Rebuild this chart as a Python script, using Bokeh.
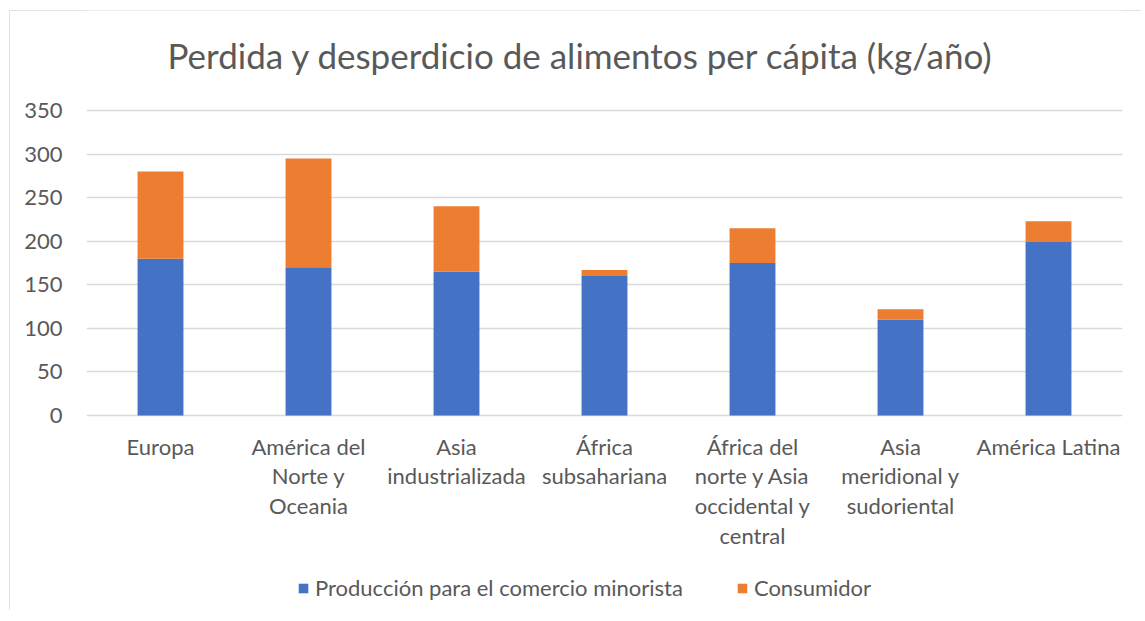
from bokeh.plotting import figure
from bokeh.models import ColumnDataSource, FixedTicker, Legend, LegendItem, Label
from bokeh.core.properties import value
from bokeh.embed import file_html
from bokeh.resources import INLINE

regions = [
    "Europa",
    "América del\nNorte y\nOceania",
    "Asia\nindustrializada",
    "África\nsubsahariana",
    "África del\nnorte y Asia\noccidental y\ncentral",
    "Asia\nmeridional y\nsudoriental",
    "América Latina",
]
produccion = [180, 170, 165, 160, 175, 110, 199]
consumidor = [100, 125, 75, 7, 40, 12, 24]
series_names = ["Producción para el comercio minorista", "Consumidor"]
colors = ["#4472C4", "#ED7D31"]
y_ticks = [0, 50, 100, 150, 200, 250, 300, 350]
title_text = "Perdida y desperdicio de alimentos per cápita (kg/año)"

FONT = "Lato"
TXT = "#595959"

# layout (pixels): the frame spans the whole chart box; 0..350 occupies 305 px
FRAME_H = 600
TOP_PAD = 100            # px from frame top down to value 350
PLOT_PX = 305            # px for 0..350
unit = 350 / PLOT_PX
y_end = 350 + TOP_PAD * unit
y_start = -(FRAME_H - TOP_PAD - PLOT_PX) * unit

src = ColumnDataSource(dict(region=regions, prod=produccion, cons=consumidor,
                            base=[0] * len(regions)))

p = figure(
    x_range=regions, y_range=(y_start, y_end),
    frame_width=1036, frame_height=FRAME_H,
    x_axis_location=None, title=None,
    min_border_left=77, min_border_right=19, min_border_top=0, min_border_bottom=0,
    output_backend="svg", toolbar_location=None,
    margin=(10, 0, 0, 9),
)
p.styles = {"outline": "1px solid #d9d9d9", "outline-offset": "-1px"}

rs = p.vbar_stack(["prod", "cons"], x="region", width=0.31, color=colors,
                  line_color=None, source=src)

# category labels under the bars
p.text(x="region", y="base", text="region", source=src,
       text_font=value(FONT), text_font_size=value("22px"), text_color=TXT,
       text_align="center", text_baseline="top", text_line_height=1.1,
       y_offset=17)

p.outline_line_color = None
p.xgrid.grid_line_color = None
p.yaxis.ticker = FixedTicker(ticks=y_ticks)
p.ygrid.grid_line_color = "#d9d9d9"
p.ygrid.grid_line_width = 1.3

ax = p.yaxis[0]
ax.axis_line_color = None
ax.major_tick_line_color = None
ax.minor_tick_line_color = None
ax.major_label_text_font = FONT
ax.major_label_text_font_size = "22px"
ax.major_label_text_color = TXT
ax.major_label_standoff = 18

# chart title
p.add_layout(Label(x=3.34, y=350 + 56 * unit, text=title_text,
                   text_font=FONT, text_font_size="35px", text_color=TXT,
                   text_align="center", text_baseline="middle"))

legend = Legend(
    items=[LegendItem(label=series_names[i], renderers=[rs[i]]) for i in range(2)],
    orientation="horizontal", location=(211, 9),
    glyph_width=12, glyph_height=12, label_standoff=6, spacing=53,
    label_text_font=FONT, label_text_font_size="22px", label_text_color=TXT,
    border_line_color=None, background_fill_alpha=0, padding=0, margin=0,
)
p.add_layout(legend, "center")

open("out.html", "w").write(file_html(p, INLINE))
